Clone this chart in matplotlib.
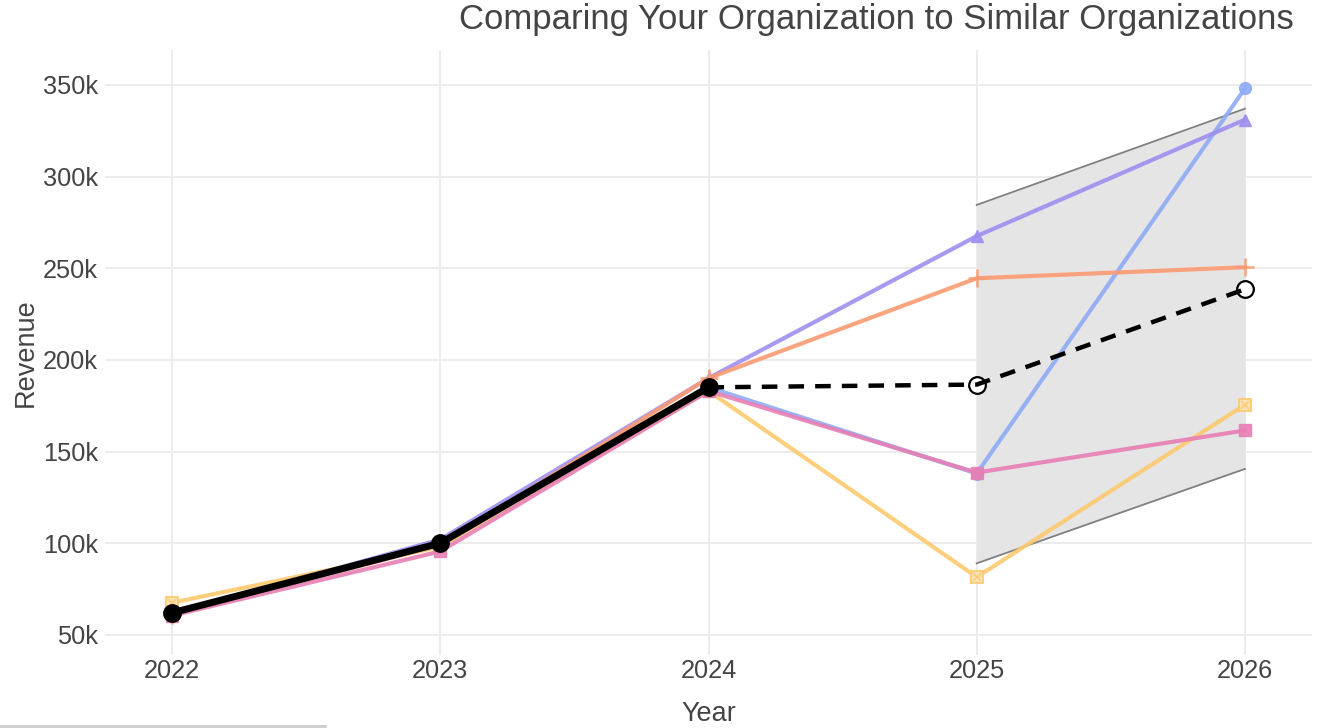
import matplotlib
matplotlib.use("Agg")
import matplotlib.pyplot as plt
from matplotlib.lines import Line2D
from matplotlib.ticker import FuncFormatter

years = [2022, 2023, 2024, 2025, 2026]
org_a = [61000, 100000, 185000, 138000, 348000]
org_b = [61000, 102000, 190000, 267500, 331000]
org_c = [61000, 99000, 190000, 244500, 250500]
org_d = [67500, 98000, 183000, 81500, 175500]
org_e = [60500, 95500, 183000, 138500, 161500]

your_years = [2022, 2023, 2024]
your_vals = [62000, 100000, 185000]
fc_years = [2024, 2025, 2026]
fc_vals = [185000, 186500, 238500]

band_years = [2025, 2026]
band_upper = [284500, 337000]
band_lower = [89000, 140500]

text_c = "#444444"
plt.rcParams['font.family'] = ['Liberation Sans', 'DejaVu Sans']

fig = plt.figure(figsize=(13.36, 7.28), dpi=100)
ax = fig.add_axes([105/1336, 1-655/728, (1312-105)/1336, (655-50)/728])

ax.fill_between(band_years, band_lower, band_upper, color="#e5e5e5", zorder=1, linewidth=0)
ax.plot(band_years, band_upper, color="#808080", lw=1.3, zorder=2)
ax.plot(band_years, band_lower, color="#808080", lw=1.3, zorder=2)

series = [
    (org_a, "#8fabf5", "o", 8.5),
    (org_b, "#9e8ff0", "^", 8.5),
    (org_c, "#fb9a72", "+", 13),
    (org_d, "#fdc96e", "s", 8),
    (org_e, "#e77fb4", "s", 8),
]
for vals, col, mk, ms in series:
    if mk == "+":
        ax.plot(years, vals, color=col, lw=3, marker=mk, ms=ms, mew=1.8, alpha=0.9, zorder=3)
    elif col == "#fdc96e":
        ax.plot(years, vals, color=col, lw=3, marker=mk, ms=ms, mfc="#fde3b0", mec=col, mew=1.4, alpha=0.9, zorder=3)
        ax.plot(years, vals, color=col, lw=0, marker="x", ms=6, mew=1.1, alpha=0.9, zorder=3)
    else:
        ax.plot(years, vals, color=col, lw=3, marker=mk, ms=ms, alpha=0.9, zorder=3)

ax.plot(fc_years[1:], fc_vals[1:], lw=0, marker="o", ms=12, mfc="white", mec="black", mew=1.6, zorder=4)
ax.plot(fc_years, fc_vals, color="black", lw=3.2, ls=(0, (3.5, 2.5)), zorder=5)
ax.plot(your_years, your_vals, color="black", lw=5, marker="o", ms=12.5, zorder=6)

ax.set_xlim(2021.75, 2026.25)
ax.set_ylim(39000, 369000)
ax.set_xticks(years)
ax.set_yticks([50000, 100000, 150000, 200000, 250000, 300000, 350000])
ax.yaxis.set_major_formatter(FuncFormatter(lambda v, p: f"{int(v/1000)}k"))
ax.grid(True, color="#ebebeb", lw=1.3, zorder=0)
ax.set_axisbelow(True)
for s in ax.spines.values():
    s.set_visible(False)
ax.tick_params(length=0, labelsize=18.3, colors=text_c)
ax.tick_params(axis="y", pad=5)
ax.tick_params(axis="x", pad=3)
ax.set_xlabel("Year", fontsize=19.5, color=text_c, labelpad=13)
ax.set_ylabel("Revenue", fontsize=19.5, color=text_c, labelpad=3)

fig.text(876/1336, 1-19/728, "Comparing Your Organization to Similar Organizations",
         ha="center", va="center", fontsize=25, color=text_c)

fig.add_artist(Line2D([0, 325/1336], [1-726/728, 1-726/728], color="#cccccc", lw=2, transform=fig.transFigure))

fig.savefig("out.png", dpi=100)
